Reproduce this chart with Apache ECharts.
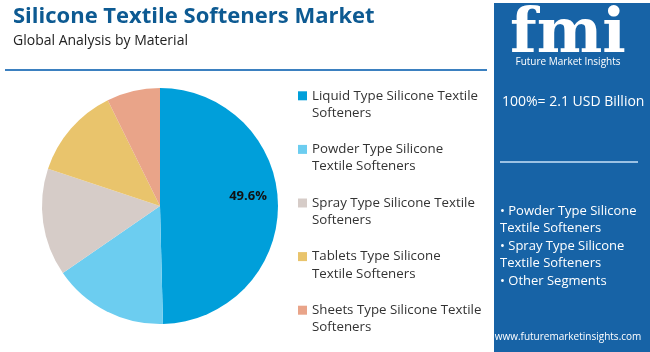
<!DOCTYPE html>
<html><head><meta charset="utf-8">
<script src="https://cdn.jsdelivr.net/npm/echarts@6/dist/echarts.min.js"></script>
<style>html,body{margin:0;padding:0;background:#fff}#c{width:650px;height:352px}</style>
</head><body><div id="c"></div>
<script>
const categories = [
  'Liquid Type Silicone Textile Softeners',
  'Powder Type Silicone Textile Softeners',
  'Spray Type Silicone Textile Softeners',
  'Tablets Type Silicone Textile Softeners',
  'Sheets Type Silicone Textile Softeners'
];
const legendLines = [
  'Liquid Type Silicone Textile\nSofteners',
  'Powder Type Silicone\nTextile Softeners',
  'Spray Type Silicone Textile\nSofteners',
  'Tablets Type Silicone\nTextile Softeners',
  'Sheets Type Silicone Textile\nSofteners'
];
const shares = [49.6, 15.8, 14.7, 12.6, 7.3];
const colors = ['#009fda', '#6ccdf0', '#d6ccc8', '#e9c46c', '#e9a489'];
const title = 'Silicone Textile Softeners Market';
const subtitle = 'Global Analysis by Material';
const totalText = '100%= 2.1 USD Billion';
const bullets = ['• Powder Type Silicone', 'Textile Softeners', '• Spray Type Silicone', 'Textile Softeners', '• Other Segments'];
const website = 'www.futuremarketinsights.com';

const FONT = '"Open Sans", "Noto Sans", sans-serif';
const chart = echarts.init(document.getElementById('c'));

const data = categories.map((c, i) => ({
  name: c, value: shares[i], itemStyle: {color: colors[i]},
  label: i === 0 ? {show: true} : {show: false}
}));

const panelX = 494;
const graphics = [
  {type: 'rect', shape: {x: panelX, y: 3, width: 650 - panelX, height: 352}, style: {fill: '#1763a6'}, z: 0},
  {type: 'text', style: {x: 13, y: 17, text: title, fill: '#0d5a92', font: 'bold 22px ' + FONT, textVerticalAlign: 'middle'}},
  {type: 'text', style: {x: 13, y: 41, text: subtitle, fill: '#222', font: '14px ' + FONT, textVerticalAlign: 'middle'}},
  {type: 'line', shape: {x1: 5, y1: 70, x2: 487, y2: 70}, style: {stroke: '#3b80c0', lineWidth: 2}},
  {type: 'text', style: {x: 568, y: 36, text: 'fmi', fill: '#fff', font: 'bold 62px "DejaVu Serif", serif', textAlign: 'center', textVerticalAlign: 'middle'}},
  {type: 'text', style: {x: 568, y: 62, text: 'Future Market Insights', fill: '#fff', font: '10px ' + FONT, textAlign: 'center', textVerticalAlign: 'middle'}},
  {type: 'text', style: {x: 502, y: 102, text: totalText, fill: '#fff', font: '14px ' + FONT, textVerticalAlign: 'middle'}},
  {type: 'line', shape: {x1: 500, y1: 162, x2: 638, y2: 162}, style: {stroke: '#9cc2e4', lineWidth: 2}},
  {type: 'text', style: {x: 568, y: 337, text: website, fill: '#fff', font: '10px ' + FONT, textAlign: 'center', textVerticalAlign: 'middle'}}
];
const bulletYs = [211, 228, 246, 263, 281];
bullets.forEach((b, i) => graphics.push({type: 'text', style: {x: 500, y: bulletYs[i], text: b, fill: '#fff', font: '13px ' + FONT, textVerticalAlign: 'middle'}}));

chart.setOption({
  animation: false,
  legend: {
    orient: 'vertical', left: 293, top: 65, height: 300,
    itemWidth: 9, itemHeight: 9, itemGap: 2,
    icon: 'rect',
    formatter: name => '\n' + legendLines[categories.indexOf(name)],
    textStyle: {fontFamily: FONT, fontSize: 13.3, color: '#333', lineHeight: 17.2},
    data: categories
  },
  graphic: graphics,
  series: [{
    type: 'pie', radius: 118, center: [160, 206],
    startAngle: 90, clockwise: true,
    data: data,
    label: {position: 'inside', formatter: p => p.value.toFixed(1) + '%', color: '#111', fontFamily: FONT, fontWeight: 'bold', fontSize: 13, offset: [26, -9]},
    labelLine: {show: false},
    itemStyle: {borderColor: '#fff', borderWidth: 0}
  }]
});
</script></body></html>
